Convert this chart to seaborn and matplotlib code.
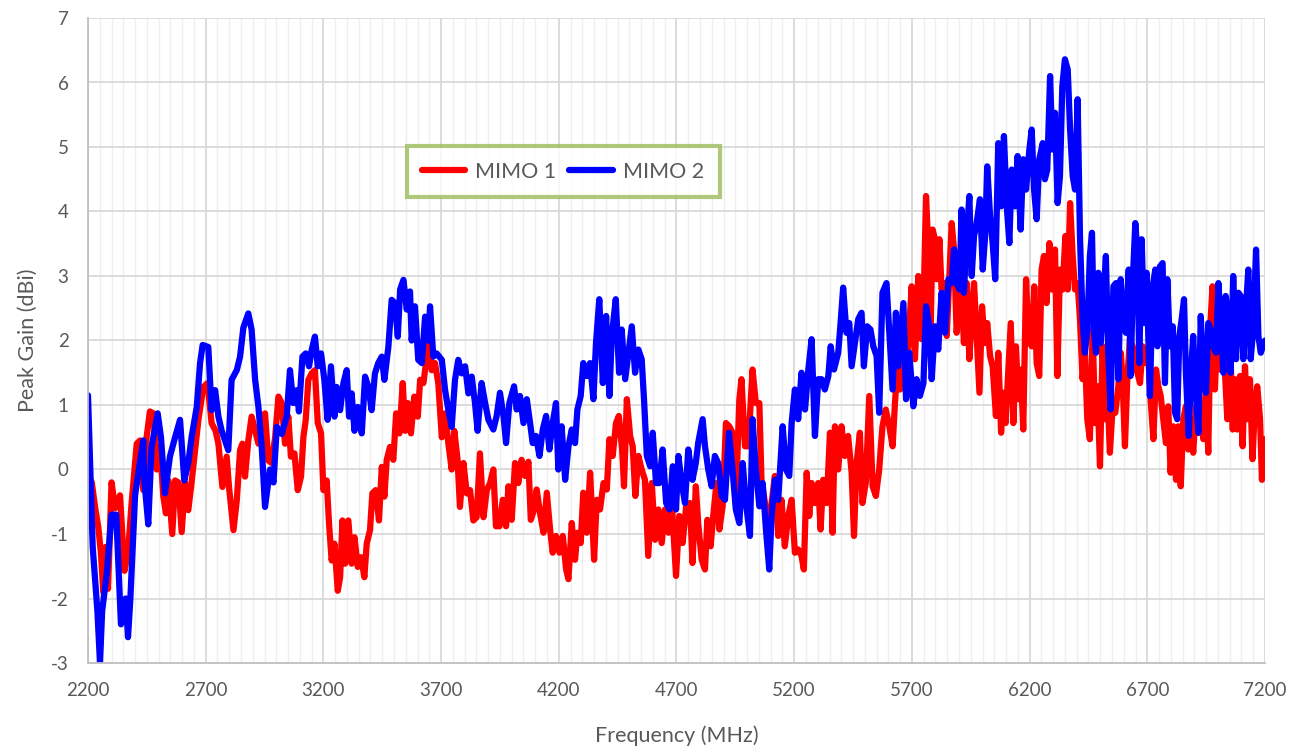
import matplotlib
matplotlib.use("Agg")
import matplotlib.pyplot as plt
import seaborn as sns
import pandas as pd
from matplotlib.ticker import MultipleLocator

# MIMO 1 (red) - frequency in MHz, peak gain in dBi
mimo1_freq = [
    2200, 2216, 2230, 2244, 2255, 2265, 2275, 2285, 2300, 2315,
    2336, 2355, 2371, 2385, 2407, 2421, 2435, 2449, 2463, 2478,
    2492, 2506, 2520, 2531, 2541, 2558, 2570, 2584, 2598, 2612,
    2626, 2640, 2655, 2669, 2690, 2708, 2725, 2742, 2754, 2771,
    2789, 2799, 2818, 2832, 2846, 2856, 2867, 2881, 2895, 2910,
    2924, 2938, 2952, 2966, 2980, 2995, 3009, 3023, 3037, 3051,
    3062, 3077, 3091, 3105, 3115, 3125, 3136, 3150, 3164, 3176,
    3190, 3200, 3214, 3224, 3235, 3247, 3261, 3271, 3281, 3292,
    3306, 3320, 3332, 3346, 3360, 3374, 3384, 3398, 3408, 3422,
    3436, 3448, 3459, 3469, 3483, 3497, 3509, 3523, 3537, 3547,
    3558, 3572, 3586, 3601, 3611, 3625, 3639, 3649, 3660, 3674,
    3688, 3703, 3717, 3731, 3745, 3756, 3770, 3780, 3795, 3809,
    3823, 3837, 3851, 3865, 3880, 3894, 3908, 3922, 3933, 3948,
    3962, 3976, 3986, 4000, 4014, 4028, 4042, 4057, 4071, 4081,
    4095, 4106, 4120, 4135, 4149, 4163, 4174, 4188, 4203, 4217,
    4231, 4241, 4255, 4269, 4279, 4293, 4304, 4319, 4333, 4350,
    4361, 4375, 4390, 4404, 4415, 4429, 4443, 4455, 4469, 4477,
    4489, 4503, 4514, 4525, 4538, 4552, 4566, 4580, 4595, 4609,
    4623, 4637, 4651, 4666, 4680, 4698, 4712, 4726, 4741, 4757,
    4768, 4782, 4792, 4807, 4821, 4831, 4845, 4856, 4870, 4882,
    4896, 4910, 4924, 4938, 4952, 4967, 4976, 4991, 5005, 5023,
    5037, 5052, 5061, 5076, 5090, 5104, 5118, 5132, 5146, 5160,
    5175, 5189, 5203, 5217, 5231, 5241, 5253, 5264, 5274, 5288,
    5302, 5312, 5323, 5338, 5352, 5363, 5373, 5387, 5401, 5415,
    5429, 5444, 5454, 5465, 5479, 5490, 5504, 5519, 5533, 5547,
    5561, 5575, 5589, 5604, 5618, 5628, 5638, 5650, 5664, 5675,
    5685, 5699, 5713, 5727, 5741, 5749, 5760, 5770, 5780, 5788,
    5798, 5805, 5817, 5826, 5836, 5848, 5859, 5869, 5879, 5890,
    5902, 5911, 5921, 5933, 5944, 5954, 5964, 5975, 5987, 5998,
    6009, 6020, 6032, 6043, 6057, 6067, 6079, 6088, 6098, 6110,
    6120, 6131, 6142, 6152, 6163, 6173, 6185, 6196, 6209, 6220,
    6230, 6241, 6251, 6261, 6272, 6284, 6295, 6308, 6318, 6329,
    6340, 6352, 6362, 6372, 6383, 6393, 6404, 6414, 6425, 6435,
    6445, 6456, 6468, 6478, 6488, 6499, 6510, 6520, 6530, 6541,
    6553, 6564, 6577, 6587, 6595, 6605, 6615, 6626, 6638, 6648,
    6658, 6669, 6680, 6692, 6704, 6714, 6726, 6737, 6747, 6757,
    6768, 6779, 6789, 6799, 6810, 6822, 6832, 6842, 6853, 6864,
    6874, 6886, 6895, 6907, 6917, 6927, 6938, 6949, 6959, 6969,
    6977, 6987, 6997, 7009, 7020, 7030, 7040, 7051, 7063, 7072,
    7082, 7094, 7105, 7115, 7125, 7136, 7147, 7157, 7167, 7179,
    7187, 7196, 7200,
]
mimo1_gain = [
    -0.10, -0.20, -0.58, -0.90, -1.30, -1.90, -1.20, -1.85, -0.20, -0.60,
    -0.40, -1.57, -1.25, -0.53, 0.40, 0.45, -0.32, 0.50, 0.90, 0.87,
    0.00, 0.35, -0.42, -0.68, -0.17, -1.00, -0.17, -0.20, -0.97, -0.20,
    -0.63, -0.20, 0.30, 0.77, 1.28, 1.34, 0.72, 0.60, 0.40, -0.27,
    0.20, -0.27, -0.94, -0.48, 0.30, 0.40, -0.11, 0.45, 0.82, 0.60,
    0.40, 0.82, 0.87, 0.14, 0.10, 0.50, 1.13, 1.03, 0.40, 0.82,
    0.20, 0.25, -0.32, -0.11, 0.50, 0.77, 1.39, 1.49, 1.54, 0.72,
    0.56, -0.32, -0.17, -0.84, -1.41, -1.15, -1.88, -1.67, -0.79, -1.46,
    -0.79, -1.46, -1.05, -1.51, -1.36, -1.67, -1.15, -0.94, -0.37, -0.32,
    -0.79, 0.04, -0.42, 0.15, 0.35, 0.15, 0.87, 0.56, 1.34, 0.60,
    1.03, 0.56, 1.13, 0.82, 1.39, 1.34, 1.75, 2.00, 1.54, 1.65,
    1.34, 0.50, 0.87, 0.40, 0.00, 0.60, 0.15, -0.58, 0.10, -0.37,
    -0.32, -0.79, -0.74, 0.25, -0.74, -0.32, -0.21, 0.00, -0.88, -0.88,
    -0.47, -0.88, -0.26, -0.78, 0.10, -0.21, 0.15, -0.10, 0.12, -0.78,
    -0.62, -0.31, -0.67, -0.98, -0.36, -0.93, -1.29, -1.03, -1.29, -1.03,
    -1.55, -1.70, -0.83, -1.40, -0.98, -1.14, -0.36, -0.98, -0.05, -1.40,
    -0.47, -0.62, -0.21, -0.31, 0.47, 0.21, 0.72, 0.83, 0.31, -0.26,
    1.09, 0.52, 0.36, -0.41, 0.21, 0.00, -0.16, -1.34, -0.21, -1.09,
    -0.62, -1.14, -0.62, -0.98, -0.52, -1.65, -0.72, -1.14, -0.57, -0.52,
    -1.45, -0.26, -0.83, -1.40, -1.55, -0.78, -1.19, -0.72, -0.21, -0.93,
    -0.57, 0.72, 0.67, 0.57, -0.52, 1.09, 1.40, 0.36, 0.36, 1.55,
    1.03, 1.03, -0.16, -0.52, -1.09, -0.52, -0.10, -1.03, -0.47, -1.19,
    -0.72, -0.47, -1.29, -1.24, -1.34, -1.55, -0.05, -0.72, -0.21, -0.52,
    -0.21, -0.93, -0.16, -0.52, 0.57, -0.98, 0.67, 0.00, 0.67, 0.21,
    0.52, -0.05, -1.03, 0.10, 0.57, -0.52, -0.21, 1.14, -0.26, -0.41,
    0.00, 0.67, 0.93, 0.67, 0.36, 1.03, 1.55, 1.24, 1.76, 1.60,
    1.96, 2.84, 1.71, 3.00, 2.02, 2.48, 4.24, 3.41, 2.22, 3.72,
    3.57, 2.95, 3.57, 2.79, 2.89, 2.07, 3.00, 3.82, 3.41, 2.12,
    2.58, 2.74, 1.96, 2.89, 1.71, 2.38, 2.89, 2.07, 1.19, 2.53,
    1.96, 2.27, 1.76, 1.60, 0.83, 1.81, 0.57, 1.19, 0.72, 1.55,
    2.27, 0.72, 1.91, 1.09, 1.55, 0.62, 2.95, 2.02, 1.91, 2.84,
    1.65, 1.45, 3.10, 3.31, 2.58, 3.51, 2.79, 3.41, 1.45, 3.10,
    2.79, 3.62, 2.79, 4.13, 3.31, 2.79, 2.89, 2.33, 1.40, 1.81,
    0.78, 0.47, 2.17, 0.72, 1.29, 0.05, 1.91, 0.78, 1.29, 0.26,
    0.98, 0.88, 1.29, 1.81, 1.40, 0.36, 1.40, 2.02, 1.91, 1.60,
    1.50, 1.34, 1.91, 1.65, 1.76, 1.09, 0.47, 1.55, 1.29, 1.14,
    0.78, 0.41, 0.98, -0.05, 0.67, -0.16, 0.67, -0.26, 0.78, 0.98,
    0.31, 0.78, 0.26, 0.98, 0.57, 1.03, 0.47, 1.29, 0.26, 2.33,
    2.84, 1.24, 2.17, 1.55, 2.33, 1.50, 0.78, 2.07, 0.62, 1.40,
    0.62, 1.45, 0.36, 1.60, 0.78, 1.40, 0.16, 0.98, 1.29, 0.78,
    -0.16, 0.47, 0.30,
]

# MIMO 2 (blue)
mimo2_freq = [
    2200, 2220, 2240, 2251, 2260, 2280, 2300, 2320, 2340, 2360,
    2370, 2380, 2400, 2420, 2435, 2440, 2456, 2470, 2496, 2510,
    2527, 2548, 2570, 2591, 2609, 2626, 2640, 2662, 2676, 2687,
    2711, 2725, 2740, 2754, 2768, 2796, 2810, 2832, 2846, 2860,
    2881, 2895, 2910, 2924, 2938, 2952, 2973, 2988, 3002, 3023,
    3044, 3058, 3072, 3087, 3096, 3111, 3125, 3139, 3150, 3164,
    3176, 3190, 3204, 3218, 3232, 3247, 3256, 3271, 3285, 3299,
    3309, 3320, 3332, 3346, 3363, 3377, 3391, 3405, 3419, 3433,
    3448, 3459, 3476, 3490, 3504, 3516, 3526, 3540, 3554, 3568,
    3575, 3589, 3603, 3618, 3632, 3646, 3653, 3667, 3681, 3703,
    3717, 3731, 3745, 3759, 3773, 3787, 3802, 3816, 3830, 3844,
    3855, 3872, 3887, 3901, 3922, 3936, 3950, 3965, 3976, 3990,
    4010, 4021, 4035, 4050, 4064, 4078, 4089, 4103, 4118, 4132,
    4146, 4160, 4174, 4188, 4198, 4212, 4227, 4241, 4255, 4269,
    4279, 4293, 4304, 4319, 4333, 4347, 4358, 4372, 4387, 4401,
    4415, 4425, 4442, 4456, 4467, 4482, 4496, 4510, 4524, 4538,
    4552, 4562, 4574, 4588, 4599, 4613, 4627, 4641, 4656, 4670,
    4684, 4698, 4708, 4722, 4736, 4750, 4768, 4782, 4792, 4811,
    4821, 4835, 4849, 4863, 4877, 4892, 4906, 4923, 4938, 4952,
    4967, 4981, 4995, 5012, 5023, 5037, 5052, 5066, 5080, 5094,
    5104, 5118, 5132, 5151, 5165, 5179, 5189, 5203, 5217, 5231,
    5246, 5260, 5274, 5288, 5302, 5316, 5330, 5345, 5355, 5369,
    5387, 5397, 5408, 5422, 5434, 5444, 5458, 5472, 5486, 5496,
    5510, 5524, 5536, 5550, 5561, 5575, 5592, 5618, 5632, 5642,
    5664, 5675, 5689, 5706, 5720, 5734, 5749, 5760, 5774, 5784,
    5798, 5812, 5826, 5841, 5855, 5869, 5879, 5890, 5902, 5911,
    5921, 5933, 5944, 5954, 5964, 5975, 5989, 6001, 6011, 6020,
    6032, 6043, 6054, 6067, 6079, 6091, 6103, 6114, 6124, 6138,
    6149, 6162, 6173, 6185, 6199, 6209, 6219, 6230, 6241, 6256,
    6265, 6275, 6287, 6297, 6308, 6319, 6329, 6339, 6350, 6362,
    6372, 6383, 6393, 6404, 6414, 6425, 6435, 6445, 6456, 6465,
    6473, 6482, 6492, 6502, 6513, 6524, 6534, 6544, 6556, 6567,
    6577, 6587, 6598, 6609, 6621, 6629, 6641, 6649, 6658, 6666,
    6676, 6686, 6697, 6711, 6723, 6734, 6743, 6754, 6765, 6775,
    6785, 6796, 6808, 6818, 6827, 6836, 6846, 6856, 6864, 6876,
    6886, 6895, 6904, 6917, 6927, 6938, 6949, 6959, 6969, 6980,
    6992, 7002, 7012, 7023, 7033, 7044, 7054, 7065, 7077, 7087,
    7097, 7108, 7119, 7129, 7139, 7150, 7162, 7172, 7182, 7200,
]
mimo2_gain = [
    1.15, -1.20, -2.20, -3.00, -2.20, -1.60, -0.70, -0.70, -2.40, -2.00,
    -2.60, -2.00, -0.40, 0.10, 0.45, -0.20, -0.85, 0.35, 0.87, 0.50,
    -0.37, 0.20, 0.50, 0.77, -0.17, 0.10, 0.50, 0.97, 1.65, 1.93,
    1.90, 0.92, 1.23, 0.82, 0.60, 0.30, 1.39, 1.54, 1.75, 2.20,
    2.42, 2.17, 1.39, 0.97, 0.35, -0.58, 0.00, -0.20, 0.66, 0.55,
    0.82, 1.54, 1.03, 1.23, 0.90, 1.75, 1.80, 1.60, 1.85, 2.06,
    1.60, 1.80, 1.39, 0.77, 1.60, 0.82, 1.28, 0.92, 1.34, 1.54,
    0.82, 1.18, 0.60, 0.97, 0.56, 1.44, 1.28, 0.92, 1.49, 1.65,
    1.75, 1.39, 1.90, 2.63, 2.58, 2.06, 2.79, 2.94, 2.48, 2.76,
    2.00, 2.53, 1.70, 1.65, 2.37, 2.00, 2.53, 1.75, 1.80, 1.70,
    1.23, 0.92, 0.66, 1.39, 1.70, 1.49, 1.60, 1.18, 1.44, 1.03,
    0.60, 1.34, 1.03, 0.77, 0.62, 0.83, 1.19, 0.83, 0.41, 1.03,
    1.29, 0.93, 1.14, 0.72, 1.09, 0.72, 0.41, 0.52, 0.21, 0.62,
    0.83, 0.31, 0.72, 1.03, 0.00, 0.67, -0.16, 0.36, 0.62, 0.41,
    0.93, 1.14, 1.65, 1.45, 1.65, 1.09, 1.96, 2.64, 1.34, 2.38,
    1.14, 2.07, 2.64, 1.50, 2.17, 1.40, 1.81, 2.22, 1.50, 1.86,
    1.71, 1.09, 0.21, 0.05, 0.57, -0.21, -0.21, 0.31, -0.52, -0.62,
    0.05, -0.62, 0.21, -0.21, -0.52, 0.31, -0.16, 0.10, 0.41, 0.78,
    0.36, 0.00, -0.26, 0.21, 0.10, -0.41, -0.47, 0.57, 0.00, -0.62,
    -0.83, 0.10, -0.52, -1.03, 0.78, 0.00, -0.57, -0.21, -0.93, -1.55,
    -0.72, -0.16, -0.47, 0.67, 0.00, -0.10, 0.72, 1.24, 0.78, 1.50,
    0.93, 1.55, 2.02, 0.52, 1.40, 1.40, 1.24, 1.45, 1.91, 1.55,
    1.81, 2.27, 2.82, 2.12, 2.27, 1.60, 1.96, 2.33, 2.43, 1.60,
    2.22, 2.17, 1.91, 1.76, 0.88, 2.74, 2.89, 1.24, 2.43, 1.60,
    2.58, 1.09, 1.81, 0.98, 1.40, 1.14, 1.34, 2.53, 2.22, 1.40,
    2.22, 1.86, 2.74, 2.12, 2.95, 2.89, 3.41, 2.89, 2.79, 4.03,
    2.74, 3.62, 4.24, 3.00, 3.62, 3.82, 4.19, 3.10, 3.62, 4.70,
    3.93, 3.51, 2.95, 5.06, 4.08, 5.17, 4.08, 3.51, 4.65, 4.08,
    4.86, 3.72, 4.81, 4.34, 4.96, 5.27, 4.34, 3.88, 4.81, 5.06,
    4.50, 4.65, 6.10, 4.96, 5.53, 4.13, 4.55, 5.94, 6.36, 6.20,
    5.27, 4.55, 4.34, 5.74, 3.62, 2.33, 1.81, 2.17, 3.31, 3.67,
    2.17, 1.81, 3.05, 1.96, 2.58, 3.31, 1.81, 0.93, 2.84, 2.89,
    1.40, 2.95, 2.33, 2.12, 3.10, 1.45, 3.15, 3.82, 3.36, 1.65,
    3.57, 2.27, 3.05, 1.14, 2.84, 3.10, 1.91, 3.15, 3.20, 1.34,
    2.95, 1.91, 2.22, 0.88, 0.78, 2.07, 2.33, 2.64, 1.50, 0.52,
    1.55, 2.07, 1.29, 0.57, 2.38, 1.40, 1.19, 2.27, 2.17, 1.91,
    1.81, 2.89, 2.33, 1.50, 2.69, 2.33, 1.50, 3.00, 1.71, 2.74,
    2.69, 1.71, 2.48, 3.10, 1.71, 2.17, 3.41, 2.07, 1.81, 2.00,
]

series_names = ["MIMO 1", "MIMO 2"]
series_colors = ["#FF0000", "#0000FF"]

x_ticks = list(range(2200, 7201, 500))
y_ticks = list(range(-3, 8))


def build_frame():
    df1 = pd.DataFrame({"freq": mimo1_freq, "gain": mimo1_gain})
    df1["Series"] = series_names[0]
    df2 = pd.DataFrame({"freq": mimo2_freq, "gain": mimo2_gain})
    df2["Series"] = series_names[1]
    return pd.concat([df1, df2], ignore_index=True)


def plot_gain(df):
    sns.set_style("white")
    plt.rcParams["font.family"] = ["Lato", "DejaVu Sans"]
    # Excel-style hyphen minus on the tick labels
    plt.rcParams["axes.unicode_minus"] = False

    fig = plt.figure(figsize=(13.02, 7.51), dpi=100)
    ax = fig.add_axes([88 / 1302, 1 - 663 / 751,
                       (1265 - 88) / 1302, (663 - 18) / 751])

    sns.lineplot(data=df, x="freq", y="gain", hue="Series",
                 palette=dict(zip(series_names, series_colors)),
                 hue_order=series_names, sort=False, estimator=None,
                 lw=4.5, ax=ax)

    ax.set_xlim(2200, 7200)
    ax.set_ylim(-3, 7)
    ax.set_xticks(x_ticks)
    ax.set_yticks(y_ticks)
    ax.xaxis.set_minor_locator(MultipleLocator(50))

    ax.grid(which="major", color="#D9D9D9", lw=1.3)
    ax.grid(which="minor", axis="x", color="#EFEFEF", lw=1.0)
    ax.set_axisbelow(True)

    for side in ["top", "right"]:
        ax.spines[side].set_visible(False)
    for side in ["left", "bottom"]:
        ax.spines[side].set_color("#BFBFBF")
        ax.spines[side].set_linewidth(1.3)

    ax.tick_params(which="both", length=0, labelsize=13.5,
                   colors="#595959", pad=14)

    ax.set_xlabel("Frequency (MHz)", fontsize=15.5, color="#595959",
                  labelpad=19)
    ax.set_ylabel("Peak Gain (dBi)", fontsize=15.5, color="#595959",
                  labelpad=9)

    leg = ax.legend(loc="center", bbox_to_anchor=(0.4036, 0.762), ncol=2,
                    frameon=True, fancybox=False, fontsize=15.5,
                    handlelength=2.0, columnspacing=0.6,
                    handletextpad=0.5, borderpad=0.7)
    leg.get_frame().set_edgecolor("#9BBB59")
    leg.get_frame().set_linewidth(3)
    for txt in leg.get_texts():
        txt.set_color("#595959")
    for line in leg.get_lines():
        line.set_linewidth(4.5)

    fig.savefig("out.png", dpi=100)


def main():
    df = build_frame()
    plot_gain(df)


if __name__ == "__main__":
    main()
